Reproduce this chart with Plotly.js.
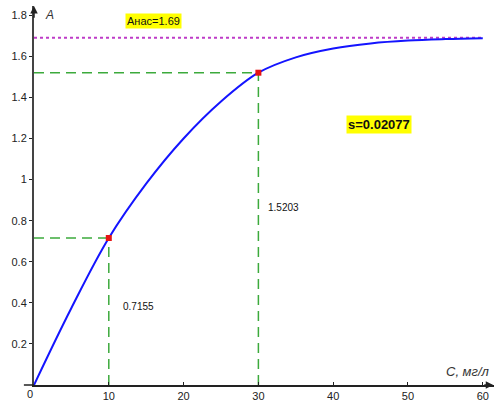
<!DOCTYPE html>
<html><head><meta charset="utf-8">
<script src="https://cdn.plot.ly/plotly-3.0.1.min.js"></script>
<style>html,body{margin:0;padding:0;background:#fff}#chart{width:497px;height:402px}</style>
</head><body><div id="chart"></div>
<script>
// Curve
const concentration = [0, 5, 10, 15, 20, 25, 30, 35, 40, 45, 50, 55, 60];
const absorbance = [0, 0.375, 0.7155, 0.98, 1.20, 1.38, 1.5203, 1.595, 1.638, 1.663, 1.677, 1.684, 1.688];
// Marked points
const markC = [10, 30];
const markA = [0.7155, 1.5203];
const markLabels = ['0.7155', '1.5203'];
const saturation = 1.69;
const sValue = '0.02077';
const xTicks = [0, 10, 20, 30, 40, 50, 60];
const yTicks = [0.2, 0.4, 0.6, 0.8, 1, 1.2, 1.4, 1.6, 1.8];

const green = 'rgb(60,170,60)';
const traces = [];
traces.push({x: [0, 60], y: [saturation, saturation], mode: 'lines',
  line: {color: 'rgb(190,60,200)', width: 2, dash: 'dot'}, hoverinfo: 'skip'});
markC.forEach((c, i) => {
  traces.push({x: [0, c], y: [markA[i], markA[i]], mode: 'lines',
    line: {color: green, width: 1.5, dash: '10px,6px'}, hoverinfo: 'skip'});
  traces.push({x: [c, c], y: [0, markA[i]], mode: 'lines',
    line: {color: green, width: 1.5, dash: '10px,6px'}, hoverinfo: 'skip'});
});
traces.push({x: concentration, y: absorbance, mode: 'lines',
  line: {color: 'rgb(20,20,255)', width: 2, shape: 'spline', smoothing: 1}, hoverinfo: 'skip'});
traces.push({x: markC, y: markA, mode: 'markers',
  marker: {symbol: 'square', size: 6, color: 'rgb(230,20,20)'}, hoverinfo: 'skip'});

const font = {family: 'Liberation Sans, Arial, sans-serif', size: 11, color: '#222'};
const annotations = [
  {x: 0, y: 1.845, ax: 0, ay: 1.78, xref: 'x', yref: 'y', axref: 'x', ayref: 'y',
   showarrow: true, arrowhead: 2, arrowsize: 1, arrowwidth: 1.5, arrowcolor: '#222', text: ''},
  {x: 61.4, y: 0, ax: 60, ay: 0, xref: 'x', yref: 'y', axref: 'x', ayref: 'y',
   showarrow: true, arrowhead: 2, arrowsize: 1, arrowwidth: 1.5, arrowcolor: '#222', text: ''},
  {x: 1.2, y: 1.8, xref: 'x', yref: 'y', xanchor: 'left', yanchor: 'middle', showarrow: false,
   text: '<i>A</i>', font: {family: font.family, size: 12, color: '#333'}},
  {x: 61.2, y: 0.02, xref: 'x', yref: 'y', xanchor: 'right', yanchor: 'bottom', showarrow: false,
   text: '<i>C, мг/л</i>', font: {family: font.family, size: 13, color: '#333'}},
  {x: 0, y: 0, xref: 'paper', yref: 'paper', xanchor: 'center', yanchor: 'top', xshift: -4, yshift: -1, showarrow: false,
   text: '0', font: font},
  {x: markC[0] + 1.6, y: 0.38, xref: 'x', yref: 'y', xanchor: 'left', showarrow: false,
   text: markLabels[0], font: {family: font.family, size: 10, color: '#111'}},
  {x: markC[1] + 1.0, y: 0.862, xref: 'x', yref: 'y', xanchor: 'left', showarrow: false,
   text: markLabels[1], font: {family: font.family, size: 10, color: '#111'}},
  {x: 16.0, y: 1.772, xref: 'x', yref: 'y', showarrow: false, text: 'Анас=' + saturation,
   bgcolor: 'rgb(255,255,0)', borderpad: 1, font: {family: font.family, size: 11, color: '#111'}},
  {x: 46.1, y: 1.269, xref: 'x', yref: 'y', showarrow: false, text: '<b>s=' + sValue + '</b>',
   bgcolor: 'rgb(255,255,0)', borderpad: 1, font: {family: font.family, size: 13, color: '#111'}}
];

const layout = {
  width: 497, height: 402,
  margin: {l: 34, r: 3, t: 6, b: 17},
  paper_bgcolor: '#fff', plot_bgcolor: '#fff',
  showlegend: false,
  font: font,
  xaxis: {range: [0, 61.5], showgrid: false, zeroline: false, showline: true,
    linecolor: '#222', linewidth: 1.5, tickvals: xTicks.slice(1), ticktext: xTicks.slice(1).map(String),
    ticks: 'inside', ticklen: 3, tickcolor: '#222', automargin: false, fixedrange: true},
  yaxis: {range: [0, 1.845], showgrid: false, zeroline: false, showline: true,
    linecolor: '#444', linewidth: 2, tickvals: yTicks, ticktext: yTicks.map(String),
    ticks: 'outside', ticklen: 3, tickcolor: '#222', automargin: false, fixedrange: true},
  shapes: [
    {type: 'line', xref: 'paper', yref: 'paper', x0: -0.022, x1: 0, y0: 0, y1: 0,
     line: {color: '#222', width: 1.5}}
  ],
  annotations: annotations
};
Plotly.newPlot('chart', traces, layout, {displayModeBar: false, staticPlot: true});
</script></body></html>
